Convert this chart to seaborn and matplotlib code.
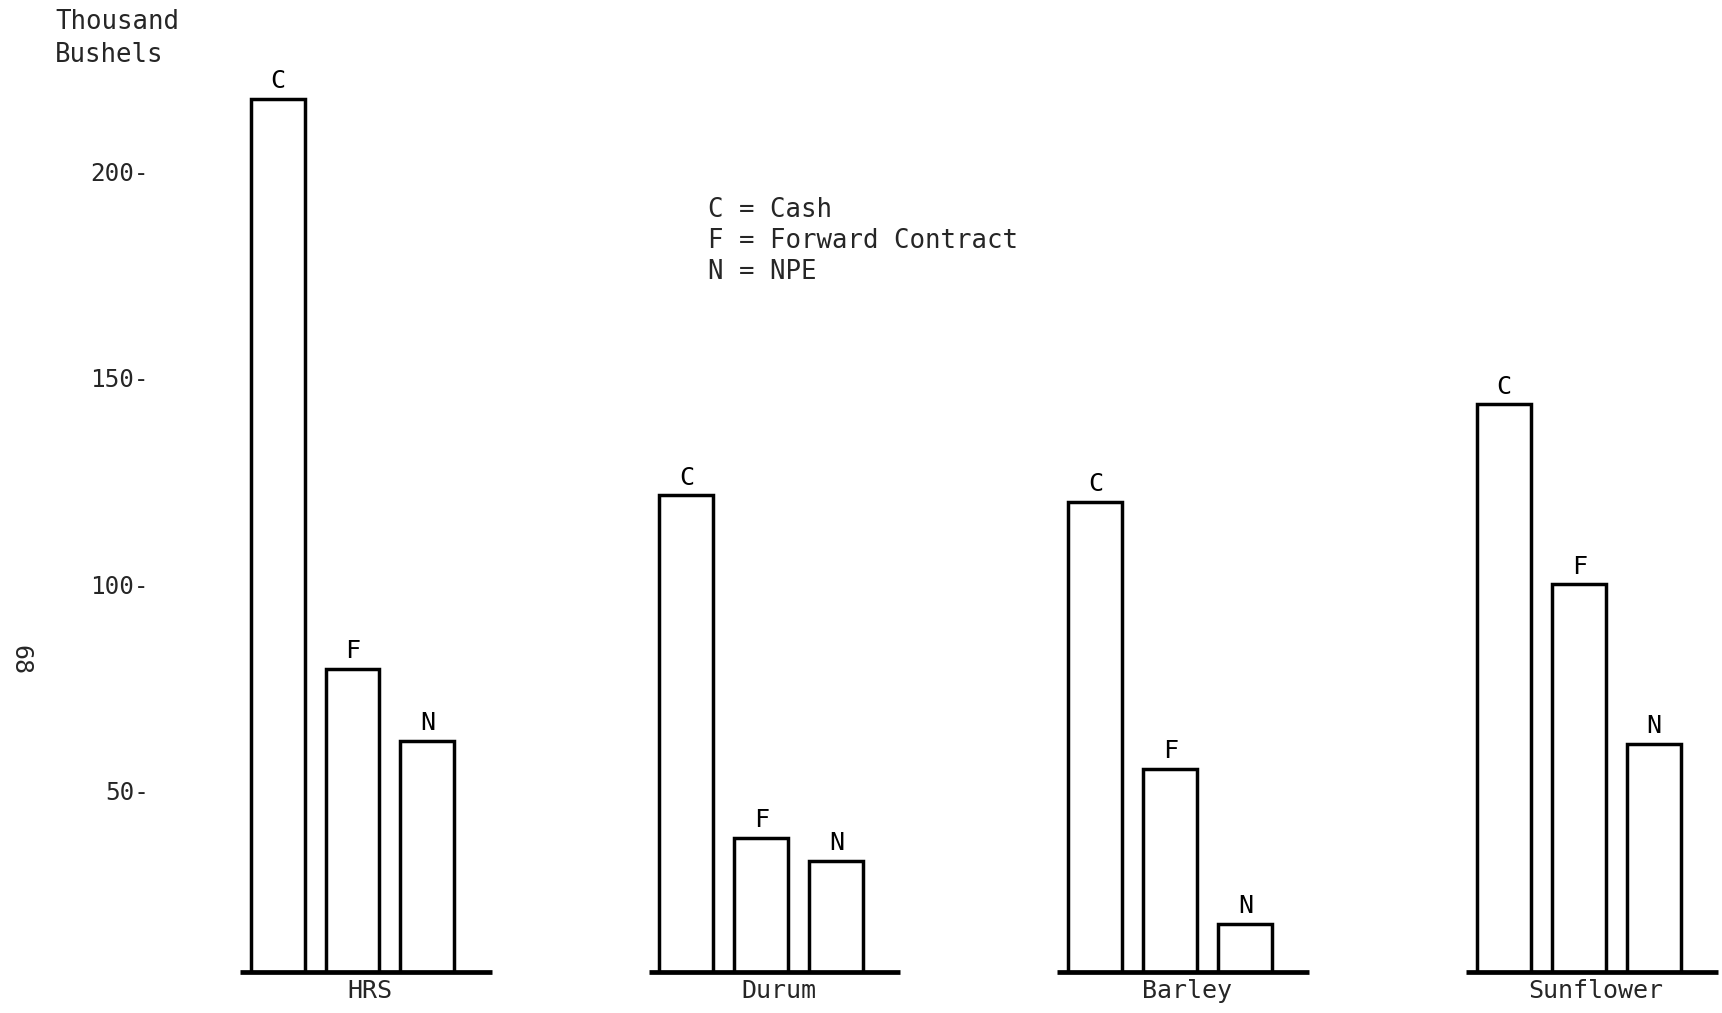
import matplotlib
matplotlib.use("Agg")
import matplotlib.pyplot as plt
import matplotlib.transforms as mtransforms
import seaborn as sns
import pandas as pd

# ---- data ----
crops = ["HRS", "Durum", "Barley", "Sunflower"]
methods = ["C", "F", "N"]
cash = [217.5, 121.5, 120.0, 143.5]
forward = [79.5, 38.5, 55.3, 100.0]
npe = [62.0, 33.0, 17.8, 61.3]
ytick_values = [50, 100, 150, 200]
ytick_labels = ["50-", "100-", "150-", "200-"]
legend_lines = ["C = Cash", "F = Forward Contract", "N = NPE"]
ylabel_lines = ["Thousand", "Bushels"]
page_number = "68"

rows = []
for crop, c, f, n in zip(crops, cash, forward, npe):
    rows.append((crop, "C", c))
    rows.append((crop, "F", f))
    rows.append((crop, "N", n))
df = pd.DataFrame(rows, columns=["crop", "method", "value"])

sns.set_theme(style="white")
plt.rcParams["font.family"] = ["DejaVu Sans Mono", "DejaVu Sans"]

W, H = 1722, 1013
fig = plt.figure(figsize=(W / 100, H / 100), dpi=100)
fig.patch.set_facecolor("white")

base_px = 972          # baseline (axes bottom), pixels from top
left_px = 160
ax = fig.add_axes([left_px / W, (H - base_px) / H, 1 - left_px / W, base_px / H])

sns.barplot(data=df, x="crop", y="value", hue="method", order=crops,
            hue_order=methods, palette={m: "white" for m in methods},
            edgecolor="black", linewidth=2.5, width=0.55, gap=0.28,
            legend=False, ax=ax)

# y scale: zero at 997 px from top, 4.129 px per unit
ppu = 4.129
zero_px = 997
ybot = (zero_px - base_px) / ppu
ytop = zero_px / ppu
ax.set_ylim(ybot, ytop)
x0 = 352.5
step = 408.9
ax.set_xlim((left_px - x0) / step, (W - x0) / step)

for cont, m in zip(ax.containers, methods):
    ax.bar_label(cont, labels=[m] * len(crops), padding=4, fontsize=18,
                 color="black")

# per-group baselines
for i in range(len(crops)):
    ax.hlines(ybot, i - 0.276, i + 0.34, colors="black", linewidth=3.4,
              clip_on=False, zorder=5)

for s in ax.spines.values():
    s.set_visible(False)
ax.set_xlabel("")
ax.set_ylabel("")
ax.set_yticks(ytick_values)
ax.set_yticklabels(ytick_labels, fontsize=17.5)
ax.tick_params(axis="y", length=0, pad=8)
ax.tick_params(axis="x", length=0, pad=5, labelsize=18)
ax.set_xticks(range(len(crops)))
ax.set_xticklabels(crops)
offset = mtransforms.ScaledTranslation(17 / 100, 0, fig.dpi_scale_trans)
for lab in ax.get_xticklabels():
    lab.set_transform(lab.get_transform() + offset)
ax.grid(False)

# axis title
for k, line in enumerate(ylabel_lines):
    fig.text(55 / W, 1 - (22 + 33 * k) / H, line, ha="left", va="center",
             fontsize=18.5)

# key
for k, line in enumerate(legend_lines):
    fig.text(708 / W, 1 - (210 + 31 * k) / H, line, ha="left", va="center",
             fontsize=18.5)

# page number
fig.text(20 / W, 1 - 660 / H, page_number, rotation=270, ha="center",
         va="center", fontsize=18)

fig.savefig("out.png", dpi=100, facecolor="white")
